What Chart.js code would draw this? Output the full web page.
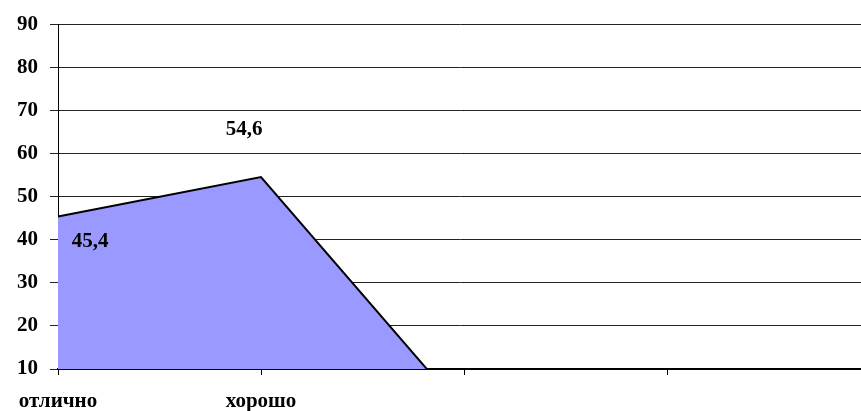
<!DOCTYPE html>
<html>
<head>
<meta charset="utf-8">
<script src="https://cdn.jsdelivr.net/npm/chart.js@4"></script>
<style>
  html, body { margin: 0; padding: 0; background: #fff; }
  #wrap { width: 861px; height: 411px; }
</style>
</head>
<body>
<div id="wrap"><canvas id="myChart"></canvas></div>
<script>
const categories = ['отлично', 'хорошо', '', '', ''];
const values = [45.4, 54.6, 0, 0, 0];

// where each value label sits relative to its point (px)
const labelOffsets = [[32, 25], [-17, -47]];

const fontFamily = '"Liberation Serif", "Times New Roman", serif';

const valueLabels = {
  id: 'valueLabels',
  afterDatasetsDraw(chart) {
    const ctx = chart.ctx;
    const meta = chart.getDatasetMeta(0);
    ctx.save();
    ctx.font = 'bold 21px ' + fontFamily;
    ctx.fillStyle = '#000';
    ctx.textAlign = 'center';
    ctx.textBaseline = 'middle';
    meta.data.forEach((pt, i) => {
      if (!values[i]) return;
      const off = labelOffsets[i] || [0, -20];
      ctx.fillText(String(values[i]).replace('.', ','), pt.x + off[0], pt.y + off[1]);
    });
    ctx.restore();
  }
};

// the last category sits just past the right edge of the picture
const extendRight = {
  id: 'extendRight',
  afterLayout(chart) {
    const extra = 9;
    const x = chart.scales.x;
    x.right += extra;
    x.width += extra;
    chart.chartArea.right += extra;
    chart.chartArea.width += extra;
    x.configure();
  }
};

const data = {
  labels: categories,
  datasets: [{
    data: values,
    backgroundColor: '#9999ff',
    borderColor: '#000',
    borderWidth: 2,
    fill: 'start',
    tension: 0,
    pointRadius: 0
  }]
};

const config = {
  type: 'line',
  data: data,
  plugins: [valueLabels, extendRight],
  options: {
    responsive: true,
    maintainAspectRatio: false,
    animation: false,
    layout: { padding: { top: 22, right: 0, left: 0, bottom: 0 } },
    plugins: { legend: { display: false }, tooltip: { enabled: false } },
    scales: {
      x: {
        offset: false,
        grid: { drawOnChartArea: false, color: '#000', tickLength: 6 },
        border: { color: '#000', width: 2 },
        ticks: {
          color: '#000', padding: 14, maxRotation: 0, autoSkip: false,
          font: { family: fontFamily, size: 21, weight: 'bold' }
        },
        afterFit(scale) {
          scale.height = 42;
          scale.paddingRight = 0;
          scale.paddingLeft = 0;
        }
      },
      y: {
        min: 10,
        max: 90,
        grid: { color: '#222', lineWidth: 1, tickLength: 8 },
        border: { color: '#000', width: 1 },
        ticks: {
          stepSize: 10, color: '#000', padding: 12,
          font: { family: fontFamily, size: 21, weight: 'bold' }
        },
        afterFit(scale) { scale.width = 58; }
      }
    }
  }
};

const myChart = new Chart(document.getElementById('myChart'), config);
</script>
</body>
</html>
